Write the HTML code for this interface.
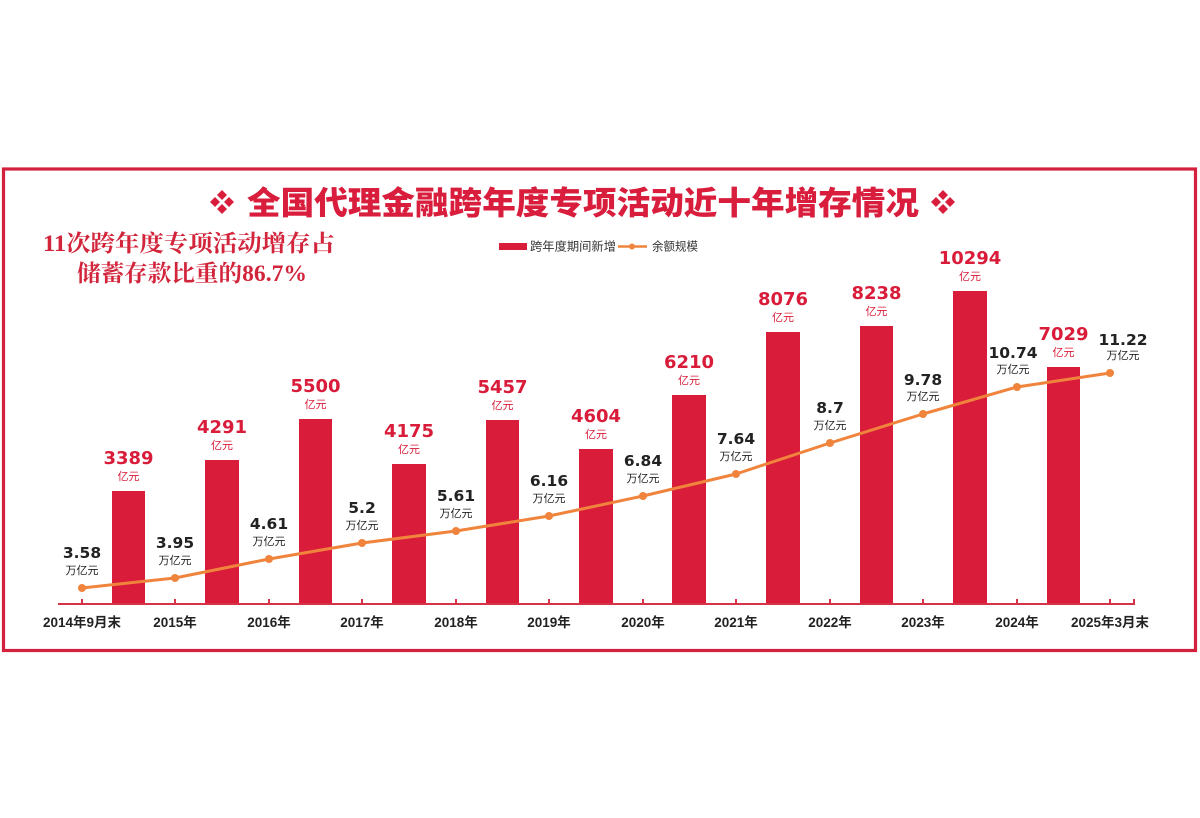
<!DOCTYPE html>
<html>
<head>
<meta charset="utf-8">
<style>
html,body{margin:0;padding:0;background:#fff;}
svg{display:block;}
</style>
</head>
<body>
<svg width="1200" height="818" viewBox="0 0 1200 818" xmlns="http://www.w3.org/2000/svg">
<rect x="0" y="0" width="1200" height="818" fill="#ffffff"/>
<!-- frame -->
<rect x="3.5" y="169" width="1192" height="481.5" fill="none" stroke="#d3213d" stroke-width="3.2"/>

<!-- title ornaments -->
<g fill="#d81e3c">
  <polygon points="222,190 227,195 222,200 217,195"/>
  <polygon points="222,204 227,209 222,214 217,209"/>
  <polygon points="215,197 220,202 215,207 210,202"/>
  <polygon points="229,197 234,202 229,207 224,202"/>
  <polygon points="943,190 948,195 943,200 938,195"/>
  <polygon points="943,204 948,209 943,214 938,209"/>
  <polygon points="936,197 941,202 936,207 931,202"/>
  <polygon points="950,197 955,202 950,207 945,202"/>
</g>
<text x="247" y="214" textLength="672" lengthAdjust="spacingAndGlyphs" font-family="'Liberation Sans','Noto Sans CJK SC',sans-serif" font-weight="900" font-size="32" fill="#d81e3c">全国代理金融跨年度专项活动近十年增存情况</text>

<!-- subtitle -->
<g font-family="'Liberation Serif','Noto Serif CJK SC',serif" font-weight="700" font-size="23" fill="#d2253b">
  <text x="43" y="251" textLength="292" lengthAdjust="spacingAndGlyphs">11次跨年度专项活动增存占</text>
  <text x="77" y="281" textLength="230" lengthAdjust="spacingAndGlyphs">储蓄存款比重的86.7%</text>
</g>

<!-- legend -->
<rect x="499" y="243" width="28" height="7" fill="#d91c3a"/>
<text x="530" y="250.5" textLength="86" lengthAdjust="spacingAndGlyphs" font-family="'Liberation Sans','Noto Sans CJK SC',sans-serif" font-size="12" fill="#333">跨年度期间新增</text>
<line x1="618" y1="246.5" x2="647" y2="246.5" stroke="#f0843c" stroke-width="2.5"/>
<circle cx="632" cy="246.5" r="3" fill="#f0843c"/>
<text x="652" y="250.5" textLength="46" lengthAdjust="spacingAndGlyphs" font-family="'Liberation Sans','Noto Sans CJK SC',sans-serif" font-size="12" fill="#333">余额规模</text>

<!-- bars -->
<g fill="#d91c3a">
  <rect x="112" y="491" width="33" height="113"/>
  <rect x="205" y="460" width="34" height="144"/>
  <rect x="299" y="419" width="33" height="185"/>
  <rect x="392" y="464" width="34" height="140"/>
  <rect x="486" y="420" width="33" height="184"/>
  <rect x="579" y="449" width="34" height="155"/>
  <rect x="672" y="395" width="34" height="209"/>
  <rect x="766" y="332" width="34" height="272"/>
  <rect x="860" y="326" width="33" height="278"/>
  <rect x="953" y="291" width="34" height="313"/>
  <rect x="1047" y="367" width="33" height="237"/>
</g>

<!-- axis -->
<g stroke="#d63348" stroke-width="2" fill="none">
  <line x1="58" y1="604" x2="1135" y2="604"/>
  <line x1="82" y1="604" x2="82" y2="599"/>
  <line x1="175" y1="604" x2="175" y2="599"/>
  <line x1="269" y1="604" x2="269" y2="599"/>
  <line x1="362" y1="604" x2="362" y2="599"/>
  <line x1="456" y1="604" x2="456" y2="599"/>
  <line x1="549" y1="604" x2="549" y2="599"/>
  <line x1="643" y1="604" x2="643" y2="599"/>
  <line x1="736" y1="604" x2="736" y2="599"/>
  <line x1="830" y1="604" x2="830" y2="599"/>
  <line x1="923" y1="604" x2="923" y2="599"/>
  <line x1="1017" y1="604" x2="1017" y2="599"/>
  <line x1="1110" y1="604" x2="1110" y2="599"/>
  <line x1="1134" y1="604" x2="1134" y2="599"/>
</g>

<!-- line series -->
<polyline points="82,588 175,578 269,559 362,543 456,531 549,516 643,496 736,474 830,443 923,414 1017,387 1110,373" fill="none" stroke="#f0843c" stroke-width="3" stroke-linejoin="round"/>
<g fill="#f0843c">
  <circle cx="82" cy="588" r="4"/>
  <circle cx="175" cy="578" r="4"/>
  <circle cx="269" cy="559" r="4"/>
  <circle cx="362" cy="543" r="4"/>
  <circle cx="456" cy="531" r="4"/>
  <circle cx="549" cy="516" r="4"/>
  <circle cx="643" cy="496" r="4"/>
  <circle cx="736" cy="474" r="4"/>
  <circle cx="830" cy="443" r="4"/>
  <circle cx="923" cy="414" r="4"/>
  <circle cx="1017" cy="387" r="4"/>
  <circle cx="1110" cy="373" r="4"/>
</g>

<!-- bar value labels -->
<g font-family="'DejaVu Sans','Liberation Sans',sans-serif" font-weight="700" font-size="18" fill="#d91c3a" text-anchor="middle">
  <text x="128.5" y="464">3389</text>
  <text x="222" y="433">4291</text>
  <text x="315.5" y="392">5500</text>
  <text x="409" y="437">4175</text>
  <text x="502.5" y="393">5457</text>
  <text x="596" y="422">4604</text>
  <text x="689" y="368">6210</text>
  <text x="783" y="305">8076</text>
  <text x="876.5" y="299">8238</text>
  <text x="970" y="264">10294</text>
  <text x="1063.5" y="340">7029</text>
</g>
<g font-family="'Liberation Sans','Noto Sans CJK SC',sans-serif" font-size="11" fill="#d91c3a" text-anchor="middle">
  <text x="128.5" y="480">亿元</text>
  <text x="222" y="449">亿元</text>
  <text x="315.5" y="408">亿元</text>
  <text x="409" y="453">亿元</text>
  <text x="502.5" y="409">亿元</text>
  <text x="596" y="438">亿元</text>
  <text x="689" y="384">亿元</text>
  <text x="783" y="321">亿元</text>
  <text x="876.5" y="315">亿元</text>
  <text x="970" y="280">亿元</text>
  <text x="1063.5" y="356">亿元</text>
</g>

<!-- line value labels -->
<g font-family="'DejaVu Sans','Liberation Sans',sans-serif" font-weight="700" font-size="15.5" fill="#222" text-anchor="middle">
  <text x="82" y="558">3.58</text>
  <text x="175" y="548">3.95</text>
  <text x="269" y="529">4.61</text>
  <text x="362" y="513">5.2</text>
  <text x="456" y="501">5.61</text>
  <text x="549" y="486">6.16</text>
  <text x="643" y="466">6.84</text>
  <text x="736" y="444">7.64</text>
  <text x="830" y="413">8.7</text>
  <text x="923" y="385">9.78</text>
  <text x="1013" y="358">10.74</text>
  <text x="1123" y="345">11.22</text>
</g>
<g font-family="'Liberation Sans','Noto Sans CJK SC',sans-serif" font-size="11" fill="#222" text-anchor="middle">
  <text x="82" y="574">万亿元</text>
  <text x="175" y="564">万亿元</text>
  <text x="269" y="545">万亿元</text>
  <text x="362" y="529">万亿元</text>
  <text x="456" y="517">万亿元</text>
  <text x="549" y="502">万亿元</text>
  <text x="643" y="482">万亿元</text>
  <text x="736" y="460">万亿元</text>
  <text x="830" y="429">万亿元</text>
  <text x="923" y="400">万亿元</text>
  <text x="1013" y="373">万亿元</text>
  <text x="1123" y="359">万亿元</text>
</g>

<!-- category labels -->
<g font-family="'Liberation Sans','Noto Sans CJK SC',sans-serif" font-weight="700" font-size="13.5" fill="#222" text-anchor="middle">
  <text x="82" y="627">2014年9月末</text>
  <text x="175" y="627">2015年</text>
  <text x="269" y="627">2016年</text>
  <text x="362" y="627">2017年</text>
  <text x="456" y="627">2018年</text>
  <text x="549" y="627">2019年</text>
  <text x="643" y="627">2020年</text>
  <text x="736" y="627">2021年</text>
  <text x="830" y="627">2022年</text>
  <text x="923" y="627">2023年</text>
  <text x="1017" y="627">2024年</text>
  <text x="1110" y="627">2025年3月末</text>
</g>
</svg>
</body>
</html>
